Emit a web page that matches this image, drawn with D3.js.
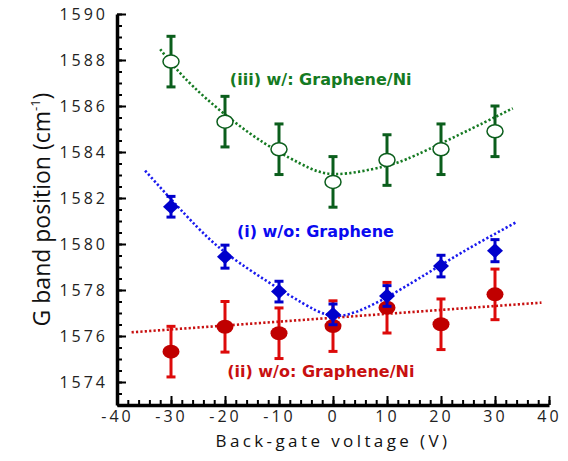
<!DOCTYPE html>
<html>
<head>
<meta charset="utf-8">
<script src="https://cdn.jsdelivr.net/npm/d3@7"></script>
<style>
  body { margin: 0; background: #fff; }
  .axis path, .axis line { stroke: #000; }
  .axis text { font-family: "Open Sans", sans-serif; font-size: 16px; letter-spacing: 3px; fill: #222; }
  .lbl { font-family: "DejaVu Sans", sans-serif; font-weight: bold; font-size: 16px; }
  .title { font-family: "Open Sans", sans-serif; fill: #111; }
</style>
</head>
<body>
<div class="graph-container"></div>
<script>
// data
var voltages = [-30, -20, -10, 0, 10, 20, 30]

var grapheneNi = [1587.93, 1585.32, 1584.12, 1582.70, 1583.65, 1584.12, 1584.90]   // (iii) w/
var grapheneNiErr = [1.1, 1.1, 1.1, 1.1, 1.1, 1.1, 1.1]
var noGraphene = [1581.62, 1579.45, 1577.93, 1576.94, 1577.74, 1579.04, 1579.71]   // (i) w/o
var noGrapheneErr = [0.45, 0.5, 0.45, 0.45, 0.45, 0.47, 0.48]
var noGrapheneNi = [1575.32, 1576.40, 1576.12, 1576.43, 1577.23, 1576.51, 1577.81] // (ii) w/o
var noGrapheneNiErr = [1.1, 1.1, 1.1, 1.1, 1.1, 1.1, 1.1]

// dotted fit curves
var fitGreenV = [-32.0, -25.85, -15.4, -6.16, 0.6, 9.2, 15.4, 25.8, 33.3]
var fitGreenG = [1588.47, 1586.84, 1584.81, 1583.51, 1583.04, 1583.36, 1583.87, 1585.03, 1585.90]
var fitBlueV = [-34.8, -25.2, -17.2, -5.55, 3.1, 14.7, 24.0, 33.8]
var fitBlueG = [1583.19, 1580.75, 1579.16, 1577.42, 1576.96, 1578.33, 1579.65, 1580.93]
var fitRedV = [-37.3, 38.6]
var fitRedG = [1576.16, 1577.45]

var xTicks = [-40, -30, -20, -10, 0, 10, 20, 30, 40]
var yTicks = [1574, 1576, 1578, 1580, 1582, 1584, 1586, 1588, 1590]

var labels = ['(iii) w/: Graphene/Ni', '(i) w/o: Graphene', '(ii) w/o: Graphene/Ni']
var labelV = [-19.1, -17.8, -19.6]
var labelG = [1586.9, 1580.3, 1574.23]

// SVG setup
var margin = {top: 14, right: 19, bottom: 56, left: 117},
    width = 568 - margin.left - margin.right,
    height = 461 - margin.top - margin.bottom

var x = d3.scaleLinear().domain([-40, 40]).range([0, width])
var y = d3.scaleLinear().domain([1573, 1590]).range([height, 0])

var svg = d3.select(".graph-container").append("svg")
    .attr("width", 568)
    .attr("height", 461)
    .append("g")
    .attr("transform", "translate(" + margin.left + "," + margin.top + ")")

var line = d3.line()
    .x(d => x(d[0]))
    .y(d => y(d[1]))
    .curve(d3.curveNatural)

function drawFit(vs, gs, color) {
  svg.append("path")
    .datum(vs.map((v, i) => [v, gs[i]]))
    .attr("d", line)
    .attr("fill", "none")
    .attr("stroke", color)
    .attr("stroke-width", 2.6)
    .attr("stroke-dasharray", "2.2,2.2")
}

function drawErr(vals, errs, color) {
  var g = svg.append("g")
  vals.forEach((v, i) => {
    var cx = x(voltages[i])
    g.append("line")
      .attr("x1", cx).attr("x2", cx)
      .attr("y1", y(v + errs[i])).attr("y2", y(v - errs[i]))
      .attr("stroke", color).attr("stroke-width", 3)
    ;[v + errs[i], v - errs[i]].forEach(e => {
      g.append("line")
        .attr("x1", cx - 4.5).attr("x2", cx + 4.5)
        .attr("y1", y(e)).attr("y2", y(e))
        .attr("stroke", color).attr("stroke-width", 3)
    })
  })
}

// (ii) w/o: Graphene/Ni
drawFit(fitRedV, fitRedG, "#c81010")
drawErr(noGrapheneNi, noGrapheneNiErr, "#dd0a0a")
svg.selectAll(".red-pt")
  .data(noGrapheneNi)
  .enter().append("ellipse")
  .attr("class", "red-pt")
  .attr("cx", (d, i) => x(voltages[i]))
  .attr("cy", d => y(d))
  .attr("rx", 8.5).attr("ry", 7)
  .attr("fill", "#c00000")

// (i) w/o: Graphene
drawFit(fitBlueV, fitBlueG, "#1a1aee")
drawErr(noGraphene, noGrapheneErr, "#0000cc")
svg.selectAll(".blue-pt")
  .data(noGraphene)
  .enter().append("path")
  .attr("class", "blue-pt")
  .attr("transform", (d, i) => "translate(" + x(voltages[i]) + "," + y(d) + ")")
  .attr("d", "M-8,0L0,-7.5L8,0L0,7.5Z")
  .attr("fill", "#0000cc")

// (iii) w/: Graphene/Ni
drawFit(fitGreenV, fitGreenG, "#157a22")
drawErr(grapheneNi, grapheneNiErr, "#0b5e1c")
svg.selectAll(".green-pt")
  .data(grapheneNi)
  .enter().append("ellipse")
  .attr("class", "green-pt")
  .attr("cx", (d, i) => x(voltages[i]))
  .attr("cy", d => y(d))
  .attr("rx", 8).attr("ry", 6.5)
  .attr("fill", "#fff")
  .attr("stroke", "#0b5e1c")
  .attr("stroke-width", 1.5)

// series labels
var labelColors = ["#157a22", "#0a0af0", "#c81010"]
svg.selectAll(".lbl")
  .data(labels)
  .enter().append("text")
  .attr("class", "lbl")
  .attr("x", (d, i) => x(labelV[i]))
  .attr("y", (d, i) => y(labelG[i]))
  .attr("fill", (d, i) => labelColors[i])
  .text(d => d)

// Axis
var minorX = d3.range(-40, 40.01, 2)
var minorY = d3.range(1573, 1590.01, 0.5)

svg.append("g")
  .attr("class", "axis")
  .attr("transform", "translate(0," + height + ")")
  .call(d3.axisBottom(x).tickValues(minorX).tickSizeInner(-5).tickSizeOuter(0).tickFormat(""))
  .call(g => g.select(".domain").remove())
  .selectAll("line").attr("stroke-width", 2)

svg.append("g")
  .attr("class", "axis")
  .call(d3.axisLeft(y).tickValues(minorY).tickSizeInner(-5).tickSizeOuter(0).tickFormat(""))
  .call(g => g.select(".domain").remove())
  .selectAll("line").attr("stroke-width", 2)

var xAxis = svg.append("g")
  .attr("class", "axis")
  .attr("transform", "translate(0," + height + ")")
  .call(d3.axisBottom(x).tickValues(xTicks).tickSizeInner(-9).tickSizeOuter(0).tickPadding(6)
    .tickFormat(d => String(d)))
xAxis.selectAll("line").attr("stroke-width", 2)
xAxis.select(".domain").attr("stroke-width", 3.5)

var yAxis = svg.append("g")
  .attr("class", "axis")
  .call(d3.axisLeft(y).tickValues(yTicks).tickSizeInner(-9).tickSizeOuter(0).tickPadding(9)
    .tickFormat(d => String(d)))
yAxis.selectAll("line").attr("stroke-width", 2)
yAxis.select(".domain").attr("stroke-width", 3.5)

// axis titles
svg.append("text")
  .attr("class", "title")
  .attr("x", width / 2)
  .attr("y", height + 42)
  .attr("text-anchor", "middle")
  .style("font-size", "17px")
  .style("letter-spacing", "3.4px")
  .text("Back-gate voltage (V)")

var yTitle = svg.append("text")
  .attr("class", "title")
  .attr("transform", "translate(" + (-67) + "," + (height / 2) + ") rotate(-90)")
  .attr("text-anchor", "middle")
  .style("font-size", "23px")
yTitle.append("tspan").text("G band position (cm")
yTitle.append("tspan").attr("dy", -10).style("font-size", "13px").text("-1")
yTitle.append("tspan").attr("dy", 10).text(")")
</script>
</body>
</html>
